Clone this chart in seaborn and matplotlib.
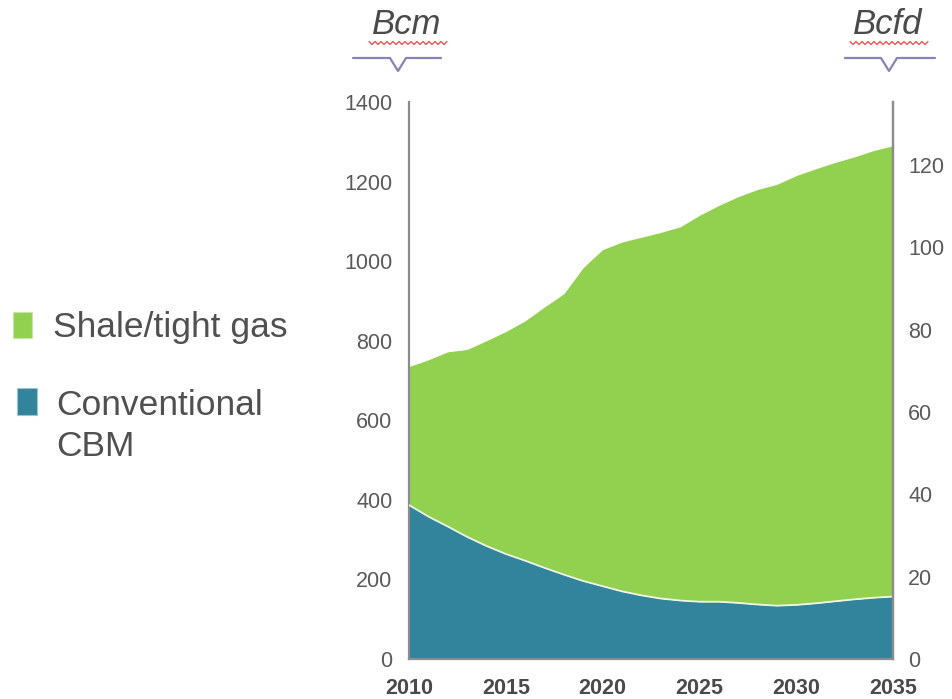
import pandas as pd
import matplotlib.pyplot as plt
import seaborn as sns
from matplotlib.lines import Line2D
from matplotlib.patches import Rectangle

# Datos (Bcm)
years = list(range(2010, 2036))
conventional_cbm = [387, 358, 333, 307, 284, 264, 247, 229, 212, 196, 183, 170, 160,
                    152, 147, 144, 144, 141, 137, 134, 136, 140, 145, 150, 154, 157]
shale_tight = [348, 394, 439, 471, 516, 559, 603, 656, 706, 788, 846, 878, 900,
               920, 939, 971, 996, 1021, 1043, 1059, 1079, 1092, 1103, 1112, 1124, 1133]
bcm_ticks = [0, 200, 400, 600, 800, 1000, 1200, 1400]
bcfd_ticks = [0, 20, 40, 60, 80, 100, 120]
year_ticks = [2010, 2015, 2020, 2025, 2030, 2035]
bcm_per_bcfd = 10.35
series_labels = ['Shale/tight gas', 'Conventional\nCBM']
unit_labels = ['Bcm', 'Bcfd']

GREEN = '#92D050'
TEAL = '#31849B'
SPINE = '#8C8C8C'
TXT = '#505050'
BRACE = '#8585B5'

df = pd.DataFrame({'year': years, 'conv': conventional_cbm, 'shale': shale_tight})
df['total'] = df['conv'] + df['shale']

sns.set_style('white')
plt.rcParams['font.family'] = ['Liberation Sans', 'DejaVu Sans']

W, H = 952, 699
fig = plt.figure(figsize=(W / 100, H / 100), dpi=100)


def fx(x):
    return x / W


def fy(y):
    return 1 - y / H


ax = fig.add_axes([fx(409), fy(659), fx(893) - fx(409), fy(102) - fy(659)])

# Áreas apiladas
ax.fill_between(df['year'], 0, df['conv'], color=TEAL, linewidth=0, zorder=2)
ax.fill_between(df['year'], df['conv'], df['total'], color=GREEN, linewidth=0, zorder=2)
sns.lineplot(x='year', y='conv', data=df, ax=ax, color='white', linewidth=1.3,
             alpha=0.85, zorder=3)

ax.set_xlim(2010, 2035)
ax.set_ylim(0, 1400)
ax.set_xticks(year_ticks)
ax.set_yticks(bcm_ticks)
ax.set_xlabel('')
ax.set_ylabel('')
ax.tick_params(axis='y', length=0, pad=12, labelsize=15.5, labelcolor='#5A5A5A')
ax.tick_params(axis='x', length=0, pad=14, labelsize=15.5, labelcolor='#4A4A4A')
for lab in ax.get_xticklabels():
    lab.set_fontweight('bold')

for side in ['left', 'right', 'bottom']:
    ax.spines[side].set_visible(True)
    ax.spines[side].set_color(SPINE)
    ax.spines[side].set_linewidth(1.6)
ax.spines['top'].set_visible(False)

# Eje derecho en Bcfd
ax2 = ax.twinx()
ax2.set_ylim(0, 1400 / bcm_per_bcfd)
ax2.set_yticks(bcfd_ticks)
ax2.tick_params(axis='y', length=0, pad=11, labelsize=15.5, labelcolor='#5A5A5A')
for side in ['left', 'top', 'bottom']:
    ax2.spines[side].set_visible(False)
ax2.spines['right'].set_color(SPINE)
ax2.spines['right'].set_linewidth(1.6)

# Leyenda manual a la izquierda
fig.add_artist(Rectangle((fx(13), fy(338)), fx(19), fy(312) - fy(338),
                         transform=fig.transFigure, facecolor=GREEN,
                         edgecolor='#C8E6A8', linewidth=0.8))
fig.text(fx(53), fy(327), series_labels[0], fontsize=25.5, color=TXT,
         ha='left', va='center')
fig.add_artist(Rectangle((fx(17), fy(415)), fx(20), fy(388) - fy(415),
                         transform=fig.transFigure, facecolor=TEAL,
                         edgecolor='#9CC4D0', linewidth=0.8))
fig.text(fx(56), fy(389), series_labels[1], fontsize=25.5, color=TXT,
         ha='left', va='top', linespacing=1.3)

# Unidades con llave
for label, cx, x0, x1 in [(unit_labels[0], 407, 353, 441), (unit_labels[1], 888, 845, 935)]:
    fig.text(fx(cx), fy(25), label, fontsize=25, style='italic', color='#4A4A4A',
             ha='center', va='center')
    # subrayado ondulado
    wx = list(range(cx - 38, cx + 41, 3))
    wy = [43 + (1.5 if i % 2 else -1.5) for i in range(len(wx))]
    fig.add_artist(Line2D([fx(v) for v in wx], [fy(v) for v in wy],
                          transform=fig.transFigure, color='#FF3030', linewidth=0.8))
    notch = cx - 9 if label == 'Bcm' else cx + 1
    bx = [x0, notch - 8, notch, notch + 8, x1]
    by = [58, 58, 71, 58, 58]
    fig.add_artist(Line2D([fx(v) for v in bx], [fy(v) for v in by],
                          transform=fig.transFigure, color=BRACE, linewidth=1.6))

plt.savefig('out.png', dpi=100)
plt.close()
